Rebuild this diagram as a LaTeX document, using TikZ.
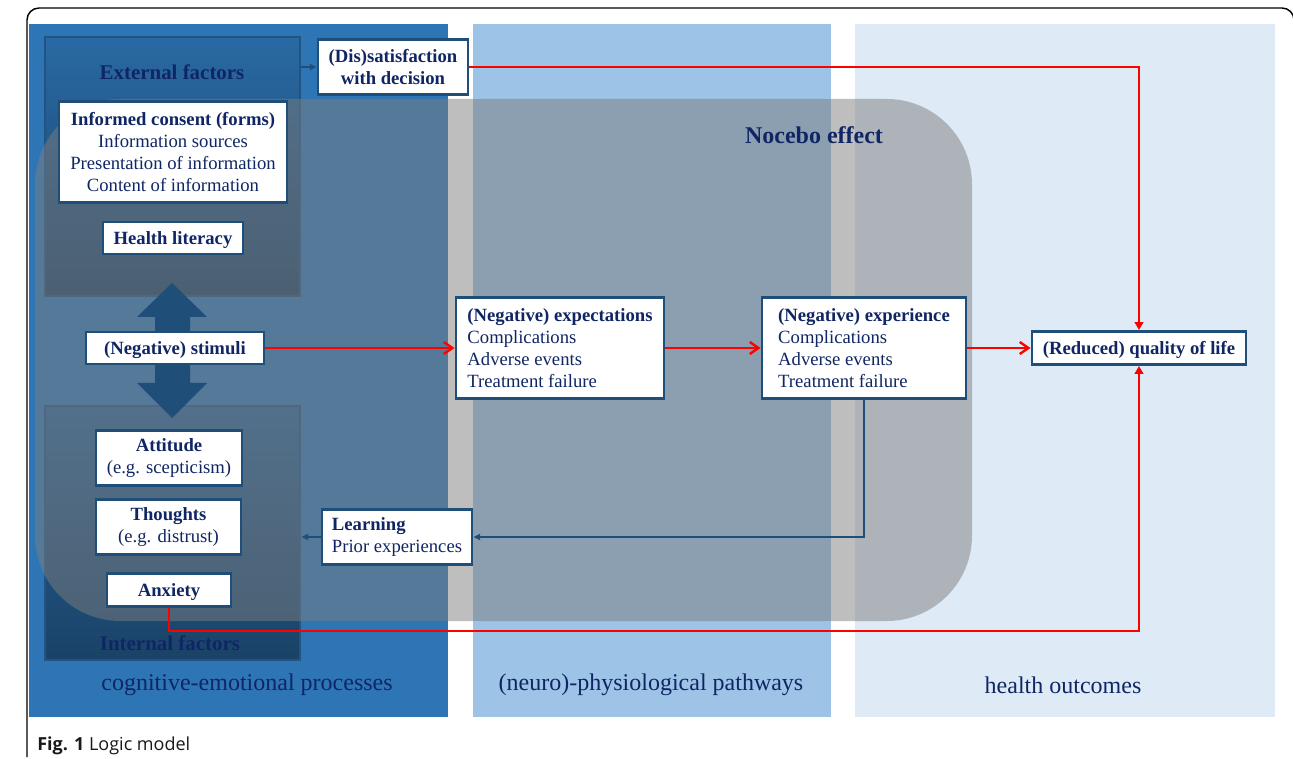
\documentclass[tikz,border=0pt]{standalone}
\usepackage{fontspec}
\setmainfont{Liberation Serif}
\setsansfont{Open Sans}
\usetikzlibrary{arrows.meta}
\definecolor{panelA}{RGB}{46,117,182}
\definecolor{panelB}{RGB}{157,195,230}
\definecolor{panelC}{RGB}{222,235,247}
\definecolor{boxblue}{RGB}{31,78,121}
\definecolor{navy}{RGB}{16,38,100}
\definecolor{nocebogray}{RGB}{125,125,125}
\definecolor{figred}{RGB}{255,0,0}

\begin{document}
\begin{tikzpicture}[x=0.75pt,y=-0.75pt,
  box/.style={draw=boxblue,line width=2.2pt,fill=white,text=navy,inner sep=0pt,
    font=\fontsize{14}{16.5}\selectfont},
  boldbox/.style={box,font=\bfseries\fontsize{14}{16.5}\selectfont,text height=12.3pt,text depth=2pt},
  factorbox/.style={draw=boxblue!85!panelA,line width=2.2pt,top color=#1,
    bottom color=boxblue!85!black,inner sep=0pt},
  heading/.style={text=navy,font=\bfseries\fontsize{15.7}{18}\selectfont},
  paneltext/.style={text=navy,font=\fontsize{18}{21}\selectfont},
  redarrow/.style={figred,line width=1.8pt,-{Straight Barb[length=6.5pt,width=9pt]}},
  redline/.style={figred,line width=2.2pt,-{Triangle[length=6pt,width=6.5pt]}},
  bluearrow/.style={boxblue,line width=1.2pt,-{Triangle[length=5pt,width=4.5pt]}}]
  \useasboundingbox (0,0) rectangle (1293,759);
  \draw[line width=1.1pt,rounded corners=9pt] (27,757) -- (27,8) -- (1294,8) -- (1294,40);

  \fill[panelA] (29,24) rectangle (448,717);
  \fill[panelB] (473,24) rectangle (831,717);
  \fill[panelC] (855,24) rectangle (1275,717);

  \node[factorbox=panelA!90!black,minimum width=191.25pt,minimum height=194.25pt] (extbox) at (172.5,166.5) {};
  \node[factorbox=panelA!85!black,minimum width=191.25pt,minimum height=190.5pt] (intbox) at (172.5,533) {};
  \node[heading] (ext) at (172,72) {External factors};
  \node[heading] (int) at (170,643) {Internal factors};

  \fill[nocebogray,fill opacity=0.5,rounded corners=64pt] (35,99) rectangle (972,621);
  \node[text=navy,font=\bfseries\fontsize{18}{21}\selectfont] (nocebo) at (814,135) {Nocebo effect};

  \fill[boxblue] (172,283) -- (207,317) -- (190,317) -- (190,383) -- (207,383) -- (172,418)
    -- (137,383) -- (155,383) -- (155,317) -- (137,317) -- cycle;

  \node[box,align=center,minimum width=171pt,minimum height=75.75pt] (consent) at (173,152)
    {\textbf{Informed consent (forms)}\\Information sources\\Presentation of information\\Content of information};
  \node[boldbox,minimum width=105pt,minimum height=24pt] (health) at (173,238) {Health literacy};
  \node[boldbox,minimum width=133.5pt,minimum height=24pt] (stimuli) at (175,348) {(Negative) stimuli};
  \node[box,align=center,minimum width=109.5pt,minimum height=41.25pt] (attitude) at (169,458)
    {\textbf{Attitude}\\(e.g. scepticism)};
  \node[box,align=center,minimum width=108.75pt,minimum height=41.25pt] (thoughts) at (168.5,527)
    {\textbf{Thoughts}\\(e.g. distrust)};
  \node[boldbox,minimum width=93pt,minimum height=24.75pt] (anxiety) at (169,590) {Anxiety};
  \node[box,align=center,font=\bfseries\fontsize{14}{16.5}\selectfont,minimum width=112.5pt,minimum height=41.25pt] (decision) at (393,67)
    {(Dis)satisfaction\\with decision};
  \node[box,align=left,minimum width=112.5pt,minimum height=41.25pt] (learning) at (397,537)
    {\textbf{Learning}\\Prior experiences};
  \node[box,align=left,minimum width=156pt,minimum height=75.75pt] (expect) at (560,348)
    {\textbf{(Negative) expectations}\\Complications\\Adverse events\\Treatment failure};
  \node[box,align=left,minimum width=153pt,minimum height=75.75pt] (experience) at (864,348)
    {\textbf{(Negative) experience}\\Complications\\Adverse events\\Treatment failure};
  \node[boldbox,minimum width=160.5pt,minimum height=24.75pt] (quality) at (1139,348) {(Reduced) quality of life};

  \draw[redarrow] (stimuli.east) -- (expect.west);
  \draw[redarrow] (expect.east) -- (experience.west);
  \draw[redarrow] (experience.east) -- (quality.west);
  \draw[redline] (decision.east) -| (quality.north);
  \draw[redline] (anxiety.south) -- ++(0,23) -| (quality.south);
  \draw[bluearrow] (experience.south) |- (learning.east);
  \draw[bluearrow] (learning.west) -- (learning.west -| intbox.east);
  \draw[bluearrow] (extbox.east |- decision.west) -- (decision.west);

  \node[paneltext] (cognitive) at (247,685) {cognitive-emotional processes};
  \node[paneltext] (pathways) at (651,685) {(neuro)-physiological pathways};
  \node[paneltext] (outcomes) at (1063,685) {health outcomes};

  \node[anchor=base west,inner sep=0pt,text=black!90,font=\sffamily\fontsize{13.5}{16}\selectfont] (caption) at (37,750)
    {\textbf{Fig. 1} Logic model};
\end{tikzpicture}
\end{document}
